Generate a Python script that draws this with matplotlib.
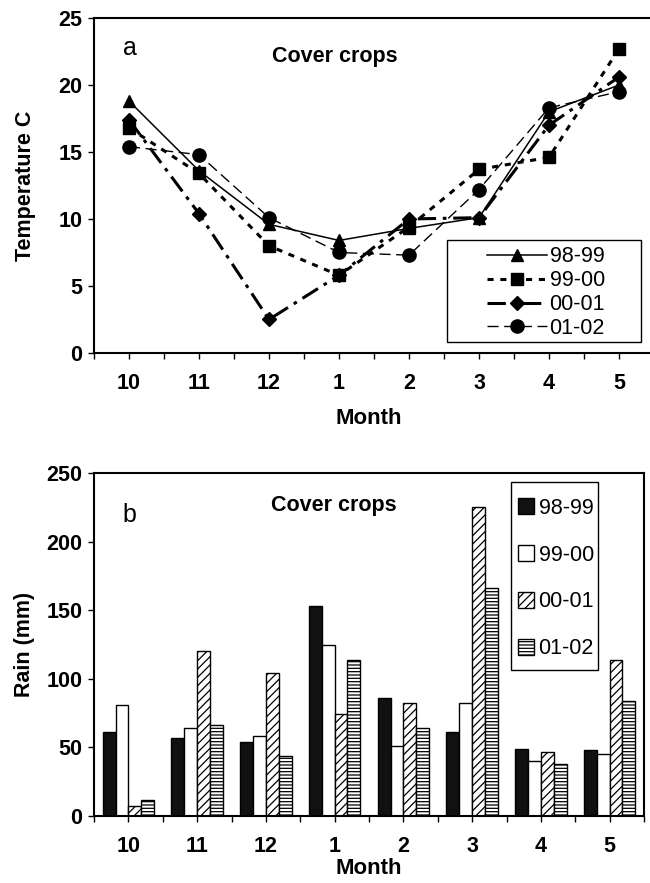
import matplotlib
matplotlib.use('Agg')
import matplotlib.pyplot as plt
from matplotlib.patches import Rectangle
import numpy as np

plt.rcParams['font.family'] = ['Liberation Sans', 'DejaVu Sans']
plt.rcParams['hatch.linewidth'] = 0.9

months = ['10', '11', '12', '1', '2', '3', '4', '5']
seasons = ['98-99', '99-00', '00-01', '01-02']

# temperature (C)
temp_9899 = [18.8, 13.6, 9.6, 8.4, 9.3, 10.1, 18.0, 20.0]
temp_9900 = [16.8, 13.4, 8.0, 5.8, 9.4, 13.7, 14.6, 22.7]
temp_0001 = [17.4, 10.4, 2.5, 5.8, 10.0, 10.1, 17.0, 20.6]
temp_0102 = [15.4, 14.8, 10.1, 7.5, 7.3, 12.2, 18.3, 19.5]

# rain (mm)
rain_9899 = [61, 57, 54, 153, 86, 61, 49, 48]
rain_9900 = [81, 64, 58, 125, 51, 82, 40, 45]
rain_0001 = [7, 120, 104, 74, 82, 225, 47, 114]
rain_0102 = [12, 66, 44, 114, 64, 166, 38, 84]

x = np.arange(len(months))
FS = 15.5

fig = plt.figure(figsize=(6.5, 8.83), dpi=100)


def style_axes(ax):
    ax.set_xlim(-0.5, 7.5)
    ax.set_xticks(x)
    ax.set_xticks(np.arange(-0.5, 8.0, 1.0), minor=True)
    ax.tick_params(axis='x', which='both', direction='out', length=4.5,
                   width=1.0, top=False, pad=10, labelsize=FS)
    ax.tick_params(axis='y', direction='out', length=4.5, width=1.0,
                   right=False, pad=4, labelsize=FS)
    ax.set_xticklabels(months, fontweight='bold')
    for lab in ax.get_yticklabels():
        lab.set_fontweight('bold')
    for sp in ax.spines.values():
        sp.set_linewidth(1.5)


# ---- a: temperature ----
ax1 = fig.add_axes([94 / 650, 1 - 353 / 883, 560 / 650, 335 / 883])
ax1.set_ylim(0, 25)
ax1.set_yticks(range(0, 26, 5))
style_axes(ax1)

ax1.plot(x, temp_9899, color='black', lw=1.1, ls='-', marker='^', ms=9, label=seasons[0])
ax1.plot(x, temp_9900, color='black', lw=2.2, dashes=(2, 2.2), marker='s', ms=8, label=seasons[1])
ax1.plot(x, temp_0001, color='black', lw=2.2, dashes=(6, 2.2, 1.2, 2.2), marker='D', ms=7.5, label=seasons[2])
ax1.plot(x, temp_0102, color='black', lw=1.0, dashes=(8, 4), marker='o', ms=9.5, label=seasons[3])

ax1.set_ylabel('Temperature C', fontsize=FS, fontweight='bold')
ax1.yaxis.set_label_coords(-0.104, 0.5)
ax1.set_xlabel('Month', fontsize=16, fontweight='bold')
ax1.xaxis.set_label_coords(0.491, -0.163)
ax1.text(0.064, 0.91, 'a', transform=ax1.transAxes, fontsize=18, ha='center', va='center')
ax1.text(0.43, 0.884, 'Cover crops', transform=ax1.transAxes, fontsize=FS,
         fontweight='bold', ha='center', va='center')

ax1.add_patch(Rectangle((0.630, 0.033), 0.347, 0.304, transform=ax1.transAxes,
                        facecolor='white', edgecolor='black', lw=1.0, zorder=4))
leg1 = ax1.legend(loc='upper left', bbox_to_anchor=(0.702, 0.318), frameon=False,
                  fontsize=FS, handlelength=2.8, handletextpad=0.1,
                  labelspacing=0.13, borderpad=0, borderaxespad=0, numpoints=1)
leg1.set_zorder(5)

# ---- b: rain ----
ax2 = fig.add_axes([94 / 650, 1 - 816 / 883, 550 / 650, 343 / 883])
ax2.set_ylim(0, 250)
ax2.set_yticks(range(0, 251, 50))
style_axes(ax2)

w = 0.187
ax2.bar(x - 1.5 * w, rain_9899, w, color='#111111', edgecolor='black', lw=1.0, label=seasons[0])
ax2.bar(x - 0.5 * w, rain_9900, w, color='white', edgecolor='black', lw=1.0, label=seasons[1])
ax2.bar(x + 0.5 * w, rain_0001, w, color='white', edgecolor='black', lw=1.0, hatch='////', label=seasons[2])
ax2.bar(x + 1.5 * w, rain_0102, w, color='white', edgecolor='black', lw=1.0, hatch='-----', label=seasons[3])

ax2.set_ylabel('Rain (mm)', fontsize=FS, fontweight='bold')
ax2.yaxis.set_label_coords(-0.107, 0.5)
ax2.set_xlabel('Month', fontsize=16, fontweight='bold')
ax2.xaxis.set_label_coords(0.5, -0.121)
ax2.text(0.065, 0.877, 'b', transform=ax2.transAxes, fontsize=18, ha='center', va='center')
ax2.text(0.436, 0.904, 'Cover crops', transform=ax2.transAxes, fontsize=FS,
         fontweight='bold', ha='center', va='center')

ax2.add_patch(Rectangle((0.758, 0.426), 0.158, 0.549, transform=ax2.transAxes,
                        facecolor='white', edgecolor='black', lw=1.0, zorder=4))
leg2 = ax2.legend(loc='upper left', bbox_to_anchor=(0.771, 0.928), frameon=False,
                  fontsize=FS, handlelength=0.75, handleheight=0.75, handletextpad=0.2,
                  labelspacing=1.2, borderpad=0, borderaxespad=0)
leg2.set_zorder(5)

fig.savefig('out.png', dpi=100)
